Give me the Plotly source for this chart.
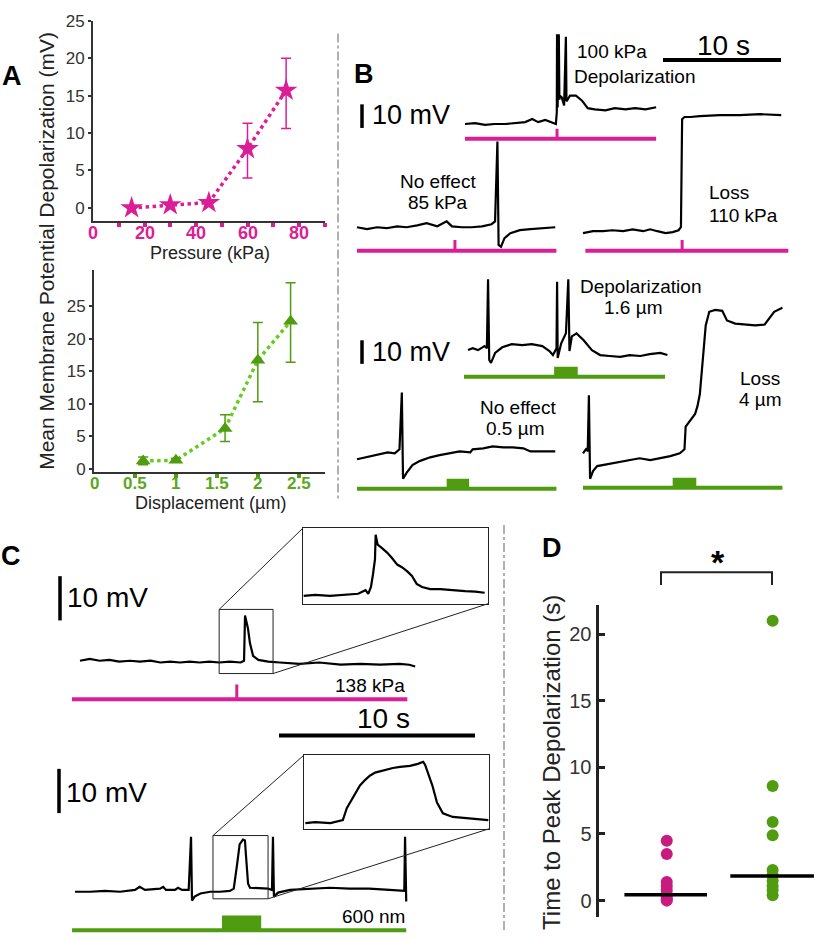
import plotly.graph_objects as go

W, H = 820, 941
PINK = "#dc1e96"
PINK_D = "#c81b80"
GREEN = "#4f9c10"
GREEN_L = "#66cc1e"
GREEN_T = "#5aa81a"
AXC = "#333333"
FONT = "Liberation Sans, Arial, sans-serif"

# ---------------- Panel A data ----------------
pressure_kpa = [15, 30, 45, 60, 75]
pressure_dep_mv = [0.0, 0.4, 0.7, 7.9, 15.7]
pressure_err_plus = [0, 0, 0, 3.4, 4.3]
pressure_err_minus = [0, 0, 0, 3.9, 5.1]
pressure_ticks = [0, 20, 40, 60, 80]
pressure_minor = [10, 20, 30, 40, 50, 60, 70, 80, 90]

displacement_um = [0.6, 1.0, 1.6, 2.0, 2.4]
displacement_dep_mv = [1.2, 1.3, 6.2, 16.7, 22.7]
disp_err_plus = [0.6, 0.3, 2.1, 5.8, 5.9]
disp_err_minus = [0.6, 0.3, 2.0, 6.4, 6.3]
disp_ticks = [0, 0.5, 1, 1.5, 2, 2.5]
disp_ticklabels = ["0", "0.5", "1", "1.5", "2", "2.5"]
disp_minor = [0.5, 1, 1.5, 2, 2.5]

# ---------------- Panel B recordings (time s, membrane potential mV rel. baseline) ----
b_dep100_t = [0, 0.85, 1.7, 2.5, 3.4, 4.2, 5.1, 5.7, 6.2, 6.8, 7.4, 7.7, 7.78, 7.8, 7.85, 7.95, 8.0, 8.05,
              8.2, 8.4, 8.55, 8.6, 8.9, 9.4, 9.9, 10.4, 11.0, 11.9, 12.7, 13.6, 14.4, 15.3, 16.2]
b_dep100_v = [0, 0.4, -0.4, 0, 0, 0.4, 0.8, 2.1, 0.8, 1.7, 0.4, 0, 5, 38, 7, 38, 10.4, 12,
              11.3, 7.9, 37, 9.6, 12, 12, 10, 6.7, 6.2, 5.8, 6.7, 6.2, 6.7, 6.2, 7.1]
b_noeff85_t = [0, 0.85, 1.7, 2.5, 3.4, 4.2, 5.1, 5.9, 6.8, 7.6, 8.05, 8.9, 9.7, 10.6, 11.4, 11.7, 11.9, 12.0,
               12.2, 12.5, 13.0, 13.8, 14.7, 15.5, 16.8]
b_noeff85_v = [0.4, -0.4, 0.4, 0, 0.8, 0.4, 1.2, 2.1, 0.8, 2.9, 0.8, 0.4, 0.4, 0.8, 1.7, 2.9, 36.7, -7.1,
               -7.9, -4.2, -2.1, -0.8, -0.4, 0, 0.4]
b_loss110_t = [0, 0.85, 1.7, 2.5, 3.4, 4.2, 5.1, 5.7, 6.3, 7.0, 7.6, 8.1, 8.3, 8.4, 8.6, 9.1, 9.9, 11.6,
               13.3, 15.0, 16.8]
b_loss110_v = [-0.4, 0.4, 0.4, 0.8, 0.4, 1.2, 0.4, 1.2, 0.4, -0.4, 0, 0.8, 2.1, 47.9, 48.8, 48.8, 49.2, 49.6,
               49.6, 50, 49.6]
b_dep16_t = [0, 0.4, 0.85, 1.4, 1.6, 1.7, 1.8, 1.95, 2.3, 2.9, 3.7, 4.6, 5.4, 6.3, 6.9, 7.2, 7.5, 7.55, 7.6,
             7.9, 8.3, 8.5, 8.6, 8.8, 9.2, 9.8, 10.5, 11.2, 12.0, 12.9, 13.7, 14.6, 15.4, 16.3, 16.9]
b_dep16_v = [0, 0.8, 0, 1.7, 0.8, 30, -4.2, -5.4, -1.2, 1.2, 2.5, 2.1, 2.5, 1.7, -0.4, -2.1, 0.8, 29, -3.3,
             2.9, 7.1, 30, -0.4, 5.8, 7.1, 4.2, 0, -2.1, -2.5, -2.9, -2.1, -2.5, -1.7, -1.2, -2.1]
b_noeff05_t = [0, 0.7, 1.3, 1.95, 2.6, 3.2, 3.6, 3.8, 3.9, 4.2, 4.7, 5.3, 6.2, 7.0, 7.9, 8.7, 9.6, 9.8,
               10.7, 11.5, 12.4, 13.2, 14.1, 14.7, 15.5, 16.8]
b_noeff05_v = [0, 0.8, 1.2, 2.1, 2.9, 2.5, 4.2, 28.3, -8.3, -5.8, -2.5, -0.8, 0.8, 1.7, 2.5, 3.3, 2.9, 4.2,
               4.6, 5.4, 5.0, 5.0, 4.6, 3.3, 3.3, 3.3]
b_loss4_t = [0, 0.3, 0.4, 0.5, 0.6, 0.85, 1.2, 2.0, 2.9, 3.7, 4.8, 5.7, 6.5, 7.4, 8.2, 8.6, 8.7, 9.1, 9.5,
             9.7, 9.9, 10.2, 10.4, 10.7, 11.2, 11.8, 12.2, 12.9, 13.7, 14.6, 15.4, 15.8, 16.2, 16.9]
b_loss4_v = [0, 2.1, 0.8, 24.6, -10.8, -7.5, -5.4, -4.6, -3.8, -2.9, -2.1, -2.9, -2.1, -1.2, 0, 1.7, 11.3,
             14.2, 16.7, 20, 25, 42.5, 54.2, 60, 60.8, 60.4, 56.3, 55, 54.6, 54.2, 54.6, 57.5, 60, 61.7]

# stimulus timing (s)
b_dep100_stim = [0, 16.2, 7.8]          # start, end, pressure pulse
b_noeff85_stim = [0, 16.9, 8.3]
b_loss110_stim = [0.2, 17.4, 8.4]
b_dep16_stim = [-0.34, 16.7, 7.3, 9.3]  # start, end, pulse on, pulse off
b_noeff05_stim = [0, 16.9, 7.6, 9.5]
b_loss4_stim = [0, 16.9, 7.6, 9.6]

# ---------------- Panel C recordings ----------------
c_p138_t = [0, 0.5, 1.0, 1.5, 2.0, 2.55, 3.06, 3.6, 4.1, 4.6, 5.1, 5.6, 6.1, 6.6, 7.1, 7.65, 8.2, 8.37,
            8.42, 8.47, 8.57, 8.67, 8.83, 9.1, 9.6, 10.2, 11.2, 12.2, 13.3, 14.3, 15.3, 16.3, 16.8, 17.1]
c_p138_v = [0, 0.4, 0, 0.2, -0.2, 0, -0.2, 0, -0.4, -0.2, -0.4, -0.2, -0.4, -0.2, -0.4, -0.2, -0.4, 0,
            10.2, 9.1, 7.3, 4.0, 1.1, 0.2, -0.2, -0.4, -0.7, -0.4, -0.9, -0.7, -0.9, -0.7, -0.9, -1.3]
c_p138_inset_t = [7.11, 7.28, 7.5, 7.72, 7.92, 7.98, 8.03, 8.07, 8.11, 8.14, 8.17, 8.18, 8.21, 8.27, 8.35,
                  8.42, 8.5, 8.57, 8.65, 8.72, 8.79, 8.87, 8.99, 9.14, 9.28, 9.51, 9.66, 9.8]
c_p138_inset_v = [-1.4, -1.2, -1.4, -1.2, -1.0, -0.6, -0.3, -1.0, 0.3, 2.7, 5.6, 10.3, 8.4, 7.8, 6.9,
                  5.9, 4.6, 4.1, 3.3, 2.4, 0.9, 0.3, -0.1, -0.1, -0.3, -0.5, -0.6, -0.8]
c_p138_window = [7.1, 9.85, -2.9, 11.6]
c_p138_stim = [-0.41, 16.7, 8.0]

c_d600_t = [0, 0.77, 1.53, 2.3, 3.06, 3.3, 3.57, 4.34, 4.5, 4.64, 5.1, 5.26, 5.46, 5.8, 5.92, 5.97, 6.1,
            6.4, 6.9, 7.4, 7.9, 8.1, 8.27, 8.4, 8.57, 8.67, 8.72, 8.83, 8.93, 9.44, 9.85, 10.05, 10.1,
            10.15, 10.36, 10.97, 12.0, 13.0, 14.0, 15.0, 16.05, 16.8, 16.84, 16.9]
c_d600_v = [0, 0, 0.2, 0, 0.4, 1.1, 0.4, 0.7, 1.1, 0.4, 0.4, 0.9, 0.4, 0.4, 12.4, -2.0, -1.1,
            -0.4, 0, 0, 0.2, 0.7, 6.2, 10.7, 11.8, 11.6, 8.4, 1.8, 0.9, 0.7, 0.7, 0.4, 12.4,
            -1.1, -0.2, 0.4, 0.7, 0.9, 0.7, 0.7, 0.4, 0.2, 12.4, -2.2]
c_d600_inset_t = [7.06, 7.21, 7.44, 7.63, 7.69, 7.78, 7.85, 7.89, 7.97, 8.04, 8.12, 8.2, 8.3, 8.39, 8.5,
                  8.65, 8.77, 8.85, 8.88, 8.92, 8.99, 9.06, 9.15, 9.3, 9.49, 9.68, 9.84]
c_d600_inset_v = [-0.5, -0.3, -0.5, 0.1, 2.4, 4.3, 5.8, 6.8, 7.9, 8.7, 9.3, 9.6, 10.0, 10.2, 10.4,
                  10.6, 11.0, 11.4, 10.8, 9.4, 6.8, 3.5, 1.4, 0.7, 0.5, 0.3, 0.1]
c_d600_window = [7.04, 9.85, -1.6, 12.7]
c_d600_stim = [-0.15, 16.9, 7.5, 9.5]

# ---------------- Panel D data ----------------
d_pressure_times = [4.5, 3.5, 1.4, 1.1, 0.8, 0.5, 0.3, 0.1, 0.0]
d_displacement_times = [21.0, 8.6, 5.9, 4.9, 2.3, 1.9, 1.5, 1.1, 0.8, 0.4]
d_medians = [0.44, 1.85]
d_ticks = [0, 5, 10, 15, 20]

# =====================================================================
fig = go.Figure()
layout = dict(width=W, height=H, margin=dict(l=0, r=0, t=0, b=0), autosize=False,
              paper_bgcolor="white", plot_bgcolor="rgba(0,0,0,0)", showlegend=False,
              font=dict(family=FONT, color="black"))
shapes, annos = [], []
counter = [0]


def px_x(px):
    return px / W


def px_y(py):
    return 1 - py / H


def new_axes(xd, yd, xr, yr, xopt=None, yopt=None):
    counter[0] += 1
    n = counter[0]
    s = "" if n == 1 else str(n)
    xa = dict(domain=xd, range=xr, anchor="y" + s, visible=False, showgrid=False, zeroline=False,
              fixedrange=True)
    ya = dict(domain=yd, range=yr, anchor="x" + s, visible=False, showgrid=False, zeroline=False,
              fixedrange=True)
    if xopt:
        xa.update(xopt)
    if yopt:
        ya.update(yopt)
    layout["xaxis" + s] = xa
    layout["yaxis" + s] = ya
    return "x" + s, "y" + s


# ---------------- Panel A top ----------------
a_axis_common = dict(visible=True, showline=True, linecolor=AXC, linewidth=2, showgrid=False, zeroline=False)
xa, ya = new_axes(
    [px_x(93), px_x(325)], [px_y(216), px_y(12)], [0, 90.1], [-1.8, 25],
    xopt=dict(a_axis_common, showticklabels=False, ticks="",
              minor=dict(tickmode="array", tickvals=pressure_minor, ticks="outside", ticklen=4,
                         tickwidth=4, tickcolor=PINK)),
    yopt=dict(a_axis_common, tickmode="array", tickvals=[0, 5, 10, 15, 20, 25], ticks="outside",
              ticklen=3, tickwidth=2, tickcolor=AXC, tickfont=dict(size=17, color=AXC, family=FONT)))
for v in pressure_ticks:
    annos.append(dict(text=f"<b>{v}</b>", x=v, xref=xa, y=px_y(228), yref="paper", showarrow=False,
                      xanchor="center", yanchor="middle", font=dict(size=18, color=PINK)))
fig.add_trace(go.Scatter(x=pressure_kpa, y=pressure_dep_mv, xaxis=xa, yaxis=ya, mode="lines+markers",
                         line=dict(color=PINK, width=3.5, dash="dot"),
                         marker=dict(symbol="star", size=17, color=PINK),
                         error_y=dict(type="data", symmetric=False, array=pressure_err_plus,
                                      arrayminus=pressure_err_minus, color=PINK, thickness=1.5, width=5),
                         cliponaxis=False))
annos.append(dict(text="Pressure (kPa)", x=px_x(210), y=px_y(248), xref="paper", yref="paper",
                  showarrow=False, font=dict(size=18, color="#222"), xanchor="center", yanchor="middle"))

# ---------------- Panel A bottom ----------------
xa, ya = new_axes(
    [px_x(94), px_x(325)], [px_y(471), px_y(266)], [0, 2.82], [-0.5, 30.5],
    xopt=dict(a_axis_common, showticklabels=False, ticks="",
              minor=dict(tickmode="array", tickvals=disp_minor, ticks="outside", ticklen=4,
                         tickwidth=4, tickcolor=GREEN)),
    yopt=dict(a_axis_common, tickmode="array", tickvals=[0, 5, 10, 15, 20, 25], ticks="outside",
              ticklen=3, tickwidth=2, tickcolor=AXC, tickfont=dict(size=17, color=AXC, family=FONT)))
for v, lab in zip(disp_ticks, disp_ticklabels):
    annos.append(dict(text=f"<b>{lab}</b>", x=v, xref=xa, y=px_y(483), yref="paper", showarrow=False,
                      xanchor="center", yanchor="middle", font=dict(size=17, color=GREEN_T)))
fig.add_trace(go.Scatter(x=displacement_um, y=displacement_dep_mv, xaxis=xa, yaxis=ya, mode="lines",
                         line=dict(color=GREEN_L, width=3.5, dash="dot")))
fig.add_trace(go.Scatter(x=displacement_um, y=displacement_dep_mv, xaxis=xa, yaxis=ya, mode="markers",
                         marker=dict(symbol="triangle-up", size=13, color=GREEN),
                         error_y=dict(type="data", symmetric=False, array=disp_err_plus,
                                      arrayminus=disp_err_minus, color=GREEN, thickness=1.5, width=5),
                         cliponaxis=False))
annos.append(dict(text="Displacement (µm)", x=px_x(210), y=px_y(503), xref="paper", yref="paper",
                  showarrow=False, font=dict(size=18, color="#222"), xanchor="center", yanchor="middle"))
annos.append(dict(text="Mean Membrane Potential Depolarization (mV)", x=px_x(47), y=px_y(246),
                  xref="paper", yref="paper", showarrow=False, textangle=-90,
                  font=dict(size=21, color="#222"), xanchor="center", yanchor="middle"))

# ---------------- recordings ----------------
B_PXS, B_PXMV = 11.8, 2.4
C_PXS, C_PXMV = 19.6, 4.5
TRACE_W = 2.2


def recording(t, v, left, base, pxs, pxmv, vr, stim, stim_v, kind, tick_h, tr=(-0.6, 17.6)):
    xd = [px_x(left + tr[0] * pxs), px_x(left + tr[1] * pxs)]
    yd = [px_y(base - vr[0] * pxmv), px_y(base - vr[1] * pxmv)]
    xa, ya = new_axes(xd, yd, list(tr), list(vr))
    col = PINK if kind == "p" else GREEN
    fig.add_trace(go.Scatter(x=[stim[0], stim[1]], y=[stim_v, stim_v], xaxis=xa, yaxis=ya, mode="lines",
                             line=dict(color=col, width=4)))
    if kind == "p":
        fig.add_trace(go.Scatter(x=[stim[2], stim[2]], y=[stim_v, stim_v + tick_h], xaxis=xa, yaxis=ya,
                                 mode="lines", line=dict(color=col, width=3)))
    else:
        shapes.append(dict(type="rect", xref=xa, yref=ya, x0=stim[2], x1=stim[3], y0=stim_v,
                           y1=stim_v + tick_h, fillcolor=col, line=dict(width=0)))
    fig.add_trace(go.Scatter(x=t, y=v, xaxis=xa, yaxis=ya, mode="lines",
                             line=dict(color="black", width=TRACE_W)))
    return xa, ya


recording(b_dep100_t, b_dep100_v, 465, 117, B_PXS, B_PXMV, (-10, 42), b_dep100_stim, -6.25, "p", 4.2)
recording(b_noeff85_t, b_noeff85_v, 357, 223, B_PXS, B_PXMV, (-12, 42), b_noeff85_stim, -9.6, "p", 4.6)
recording(b_loss110_t, b_loss110_v, 583, 227, B_PXS, B_PXMV, (-12, 55), b_loss110_stim, -7.9, "p", 4.6)
recording(b_dep16_t, b_dep16_v, 468, 347, B_PXS, B_PXMV, (-14, 33), b_dep16_stim, -11.25, "g", 4.2)
recording(b_noeff05_t, b_noeff05_v, 357, 458, B_PXS, B_PXMV, (-15, 31), b_noeff05_stim, -12.5, "g", 4.2)
recording(b_loss4_t, b_loss4_v, 583, 452, B_PXS, B_PXMV, (-17, 64), b_loss4_stim, -14.6, "g", 4.2)

# panel C main traces + insets
C1_LEFT, C1_BASE = 80, 663
C2_LEFT, C2_BASE = 75, 898
c1x, c1y = recording(c_p138_t, c_p138_v, C1_LEFT, C1_BASE, C_PXS, C_PXMV, (-10, 13), c_p138_stim, -8.7, "p", 3.3)
c2x, c2y = recording(c_d600_t, c_d600_v, C2_LEFT, C2_BASE, C_PXS, C_PXMV, (-9.5, 14), c_d600_stim, -8.7, "g", 3.3)

inset_opt = dict(visible=True, showline=True, mirror=True, linecolor="#222", linewidth=1,
                 showticklabels=False, ticks="")


def inset(t, v, window, box, left, base, xs_main, ys_main):
    x0, y0, x1, y1 = box
    xa, ya = new_axes([px_x(x0), px_x(x1)], [px_y(y1), px_y(y0)], window[:2], window[2:],
                      xopt=inset_opt, yopt=inset_opt)
    fig.add_trace(go.Scatter(x=t, y=v, xaxis=xa, yaxis=ya, mode="lines", line=dict(color="black", width=TRACE_W)))
    shapes.append(dict(type="rect", xref=xs_main, yref=ys_main, x0=window[0], x1=window[1],
                       y0=window[2], y1=window[3], line=dict(color="#222", width=1)))
    sx0 = left + window[0] * C_PXS
    sx1 = left + window[1] * C_PXS
    sy_top = base - window[3] * C_PXMV
    sy_bot = base - window[2] * C_PXMV
    shapes.append(dict(type="line", xref="paper", yref="paper", x0=px_x(sx0), y0=px_y(sy_top),
                       x1=px_x(x0), y1=px_y(y0), line=dict(color="#222", width=1)))
    shapes.append(dict(type="line", xref="paper", yref="paper", x0=px_x(sx1), y0=px_y(sy_bot),
                       x1=px_x(x1), y1=px_y(y1), line=dict(color="#222", width=1)))


inset(c_p138_inset_t, c_p138_inset_v, c_p138_window, (303, 528, 488, 605), C1_LEFT, C1_BASE, c1x, c1y)
inset(c_d600_inset_t, c_d600_inset_v, c_d600_window, (304, 759, 489, 834), C2_LEFT, C2_BASE, c2x, c2y)

# ---------------- Panel D ----------------
dx, dy = new_axes([px_x(599), px_x(815)], [px_y(924), px_y(606)], [0.36, 2.4], [-1.25, 22.2],
                  xopt=dict(visible=False),
                  yopt=dict(visible=True, showline=True, linecolor="#222", linewidth=3.5,
                            tickmode="array", tickvals=d_ticks, ticks="inside", ticklen=6, tickwidth=3,
                            tickcolor="#222", tickfont=dict(size=20, color=AXC, family=FONT),
                            showgrid=False, zeroline=False))
fig.add_trace(go.Scatter(x=[1] * len(d_pressure_times), y=d_pressure_times, xaxis=dx, yaxis=dy,
                         mode="markers", marker=dict(size=12, color=PINK_D), cliponaxis=False))
fig.add_trace(go.Scatter(x=[2] * len(d_displacement_times), y=d_displacement_times, xaxis=dx, yaxis=dy,
                         mode="markers", marker=dict(size=12, color=GREEN), cliponaxis=False))
fig.add_trace(go.Scatter(x=[0.6, 1.38], y=[d_medians[0]] * 2, xaxis=dx, yaxis=dy, mode="lines",
                         line=dict(color="black", width=3.5)))
fig.add_trace(go.Scatter(x=[1.6, 2.39], y=[d_medians[1]] * 2, xaxis=dx, yaxis=dy, mode="lines",
                         line=dict(color="black", width=3.5)))
annos.append(dict(text="Time to Peak Depolarization (s)", x=px_x(552), y=px_y(767), xref="paper",
                  yref="paper", showarrow=False, textangle=-90, font=dict(size=24, color="#222"),
                  xanchor="center", yanchor="middle"))
shapes.append(dict(type="path", xref="paper", yref="paper",
                   path=f"M {px_x(661)} {px_y(586)} L {px_x(661)} {px_y(573)} L {px_x(772)} {px_y(573)} L {px_x(772)} {px_y(586)}",
                   line=dict(color="#222", width=2)))
annos.append(dict(text="<b>*</b>", x=px_x(718), y=px_y(563), xref="paper", yref="paper", showarrow=False,
                  font=dict(size=34), xanchor="center", yanchor="middle"))


# ---------------- scale bars ----------------
def vbar(x, ytop, length):
    shapes.append(dict(type="line", xref="paper", yref="paper", x0=px_x(x), x1=px_x(x), y0=px_y(ytop),
                       y1=px_y(ytop + length), line=dict(color="black", width=3.5)))


def hbar(x, y, length):
    shapes.append(dict(type="line", xref="paper", yref="paper", x0=px_x(x), x1=px_x(x + length), y0=px_y(y),
                       y1=px_y(y), line=dict(color="black", width=4)))


vbar(362, 97, 10 * B_PXMV)
vbar(362, 337, 10 * B_PXMV)
hbar(663, 52, 10 * B_PXS)
vbar(60, 577, 10 * C_PXMV)
vbar(59, 773, 10 * C_PXMV)
hbar(279, 739, 10 * C_PXS)

# ---------------- dividers ----------------
for x, y0, y1 in [(338, 25, 498), (504, 525, 937)]:
    shapes.append(dict(type="line", xref="paper", yref="paper", x0=px_x(x), x1=px_x(x), y0=px_y(y0), y1=px_y(y1),
                       line=dict(color="#b0b0b0", width=2, dash="dashdot")))


# ---------------- texts ----------------
def txt(s, x, y, size, anchor="center", bold=False, color="black"):
    annos.append(dict(text=f"<b>{s}</b>" if bold else s, x=px_x(x), y=px_y(y), xref="paper", yref="paper",
                      showarrow=False, xanchor=anchor, yanchor="middle", font=dict(size=size, color=color)))


txt("A", 12, 68, 27, bold=True)
txt("B", 364, 66, 27, bold=True)
txt("C", 11, 556, 27, bold=True)
txt("D", 552, 548, 27, bold=True)
txt("10 s", 723, 37, 28)
txt("10 s", 383, 722, 28)
txt("10 mV", 370, 108, 27, anchor="left")
txt("10 mV", 370, 349, 27, anchor="left")
txt("10 mV", 65, 599, 28, anchor="left")
txt("10 mV", 64, 797, 28, anchor="left")
txt("100 kPa", 575, 43, 19, anchor="left")
txt("Depolarization", 572, 69, 19, anchor="left")
txt("No effect", 438, 175, 19)
txt("85 kPa", 438, 197, 19)
txt("Loss", 707, 187, 19, anchor="left")
txt("110 kPa", 707, 210, 19, anchor="left")
txt("Depolarization", 640, 282, 19)
txt("1.6 µm", 633, 304, 19)
txt("Loss", 760, 376, 19)
txt("4 µm", 760, 397, 19)
txt("No effect", 518, 405, 19)
txt("0.5 µm", 515, 427, 19)
txt("138 kPa", 370, 688, 19)
txt("600 nm", 373, 923, 19)

layout["shapes"] = shapes
layout["annotations"] = annos
fig.update_layout(**layout)
fig.write_html("out.html", config={"displayModeBar": False, "staticPlot": True},
               post_script="document.body.style.margin='0px';document.body.style.overflow='hidden';")
